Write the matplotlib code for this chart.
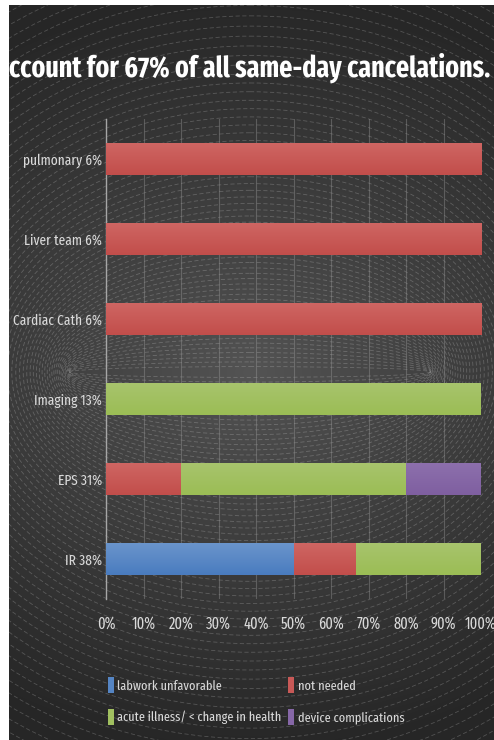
import numpy as np
import matplotlib
matplotlib.use("Agg")
import matplotlib.pyplot as plt
from matplotlib import font_manager as fm
from matplotlib.textpath import TextPath
from matplotlib.patches import Ellipse, Patch
from matplotlib.colors import to_rgb

categories = ["IR 38%", "EPS 31%", "Imaging 13%", "Cardiac Cath 6%", "Liver team 6%", "pulmonary 6%"]
labwork = [50.0, 0, 0, 0, 0, 0]
not_needed = [16.7, 20.0, 0, 100.0, 100.0, 100.0]
acute = [33.3, 60.0, 100.0, 0, 0, 0]
device = [0, 20.0, 0, 0, 0, 0]
series_names = ["labwork unfavorable", "not needed", "acute illness/ < change in health", "device complications"]
colors = ["#5585c4", "#c85957", "#a1c060", "#8667a7"]
colors_top = ["#6a95cc", "#cf6663", "#a8c46d", "#8d70ad"]
colors_bot = ["#4a7cbf", "#c24e4b", "#9bbd55", "#7f5fa0"]
xticks = [0, 10, 20, 30, 40, 50, 60, 70, 80, 90, 100]
title = "account for 67% of all same-day cancelations."


def find_font(bold, extra):
    cands = []
    for f in fm.fontManager.ttflist:
        nm = f.name.lower()
        st = str(f.stretch).lower()
        fn = f.fname.lower().replace("-", "").replace("_", "")
        is_extra = ("extracondensed" in fn) or ("extra-condensed" in st) or ("extracondensed" in nm.replace(" ", ""))
        is_cond = ("condensed" in st) or ("narrow" in nm) or ("condensed" in nm) or ("condensed" in fn)
        if "semi" in fn or "semi" in st or "ultra" in fn or "ultra" in st:
            continue
        if extra and not is_extra:
            continue
        if not extra and (not is_cond or is_extra):
            continue
        if f.style != "normal":
            continue
        w = f.weight if isinstance(f.weight, int) else (700 if "bold" in str(f.weight) else 400)
        if bold and (w < 600 or w > 800):
            continue
        if not bold and (w >= 600 or w < 400):
            continue
        pri = 5
        for i, key in enumerate(["dejavu", "noto sans", "open sans", "roboto", "liberation"]):
            if key in nm:
                pri = i
                break
        cands.append((pri, abs(w - (700 if bold else 400)), f.fname))
    if cands:
        cands.sort()
        return cands[0][2]
    return None


def pick(bold):
    for extra in (True, False):
        p = find_font(bold, extra)
        if p:
            return p
    return None


reg_file = pick(False)
bold_file = pick(True)


def FP(size):
    if reg_file:
        return fm.FontProperties(fname=reg_file, size=size)
    return fm.FontProperties(family="DejaVu Sans", size=size)


def FPB(size):
    if bold_file:
        return fm.FontProperties(fname=bold_file, size=size)
    return fm.FontProperties(family="DejaVu Sans", weight="bold", size=size)


def fit_size(maker, text, target_px, dpi=100):
    w = TextPath((0, 0), text, prop=maker(10)).get_extents().width * dpi / 72.0
    return 10 * target_px / w


lab_size = fit_size(FP, "Cardiac Cath 6%", 84) * 1.04
tick_size = fit_size(FP, "50%", 21) * 1.15
leg_size = fit_size(FP, "labwork unfavorable", 101) * 1.02
title_size = fit_size(FPB, title, 493)

W, H = 494, 740
fig = plt.figure(figsize=(W / 100, H / 100), dpi=100, facecolor="white")

# background panel with radial glow and confocal dashed ellipses
bg = fig.add_axes([9 / W, 0, 1 - 9 / W, (H - 5) / H], zorder=-10)
bg.set_xlim(9, W)
bg.set_ylim(H, 5)
bg.axis("off")
yy, xx = np.mgrid[5:H:2, 9:W:2]
cx, cy, cf = 250, 372, 180
r = np.sqrt(((xx - cx) / 1.25) ** 2 + ((yy - cy) / 1.0) ** 2)
val = 0.33 - 0.18 * np.clip(r / 380, 0, 1) ** 0.9
img = np.dstack([val, val, val])
bg.imshow(img, extent=(9, W, H, 5), aspect="auto", interpolation="bilinear")
for mu in np.arange(0.03, 2.1, 0.026):
    a = cf * np.cosh(mu)
    b = cf * np.sinh(mu)
    e = Ellipse((cx, cy), width=2 * a, height=2 * b, fill=False,
                edgecolor="white", alpha=0.2, lw=0.6, linestyle=(0, (5, 3)))
    bg.add_patch(e)

ax = fig.add_axes([106 / W, (H - 599) / H, (481 - 106) / W, 480 / H])
ax.set_facecolor("none")
y = np.arange(len(categories))
left = np.zeros(len(categories))
all_series = [labwork, not_needed, acute, device]
handles = []
containers = []
for name, vals, c in zip(series_names, all_series, colors):
    cont = ax.barh(y, vals, left=left, height=0.41, color=c, edgecolor="none", zorder=3)
    containers.append(cont)
    left += np.array(vals)
    handles.append(Patch(facecolor=c, edgecolor="none", label=name))

# vertical gradient fill on each bar (clipped to the bar)
for cont, ct, cb in zip(containers, colors_top, colors_bot):
    grad = np.linspace(0, 1, 32)[:, None, None]
    g = np.array(to_rgb(cb))[None, None, :] * (1 - grad) + np.array(to_rgb(ct))[None, None, :] * grad
    for p in cont.patches:
        if p.get_width() <= 0:
            continue
        x0, y0, w, h = p.get_x(), p.get_y(), p.get_width(), p.get_height()
        im = ax.imshow(g, extent=(x0, x0 + w, y0, y0 + h), origin="lower",
                       aspect="auto", zorder=3.5, interpolation="bilinear")
        im.set_clip_path(p)

ax.set_xlim(0, 100)
ax.set_ylim(-0.5, len(categories) - 0.5)
ax.set_yticks(y)
ax.set_yticklabels(categories, fontproperties=FP(lab_size), color="#d9d9d9")
ax.set_xticks(xticks)
ax.set_xticklabels([f"{t}%" for t in xticks], fontproperties=FP(tick_size), color="#d9d9d9")
ax.tick_params(length=0, pad=3)
ax.tick_params(axis="x", pad=12)
ax.grid(axis="x", color="#9a9a9a", alpha=0.4, lw=0.8, zorder=0)
for s in ["top", "right", "bottom"]:
    ax.spines[s].set_visible(False)
ax.spines["left"].set_color("#a6a6a6")
ax.spines["left"].set_linewidth(1.0)

fig.text(490 / W, 1 - 68 / H, title, ha="right", va="center", color="white",
         fontproperties=FPB(title_size))

order = [0, 2, 1, 3]
leg = fig.legend([handles[i] for i in order], [series_names[i] for i in order],
                 ncol=2, loc="upper left", bbox_to_anchor=(96 / W, 1 - 665 / H),
                 frameon=False, handlelength=0.45, handleheight=1.5, handletextpad=0.25,
                 columnspacing=0.5, labelspacing=1.15,
                 prop=FP(leg_size))
for t in leg.get_texts():
    t.set_color("#d9d9d9")

fig.savefig("out.png", dpi=100, facecolor="white")
